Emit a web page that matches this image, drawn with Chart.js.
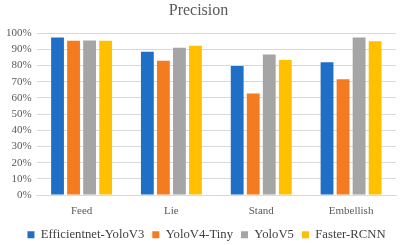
<!DOCTYPE html>
<html>
<head>
<meta charset="utf-8">
<script src="https://cdn.jsdelivr.net/npm/chart.js@4/dist/chart.umd.min.js"></script>
<style>
html,body{margin:0;padding:0;background:#fff;}
#wrap{width:400px;height:245px;}
</style>
</head>
<body>
<div id="wrap"><canvas id="c" width="400" height="245"></canvas></div>
<script>
const categories = ["Feed", "Lie", "Stand", "Embellish"];
const seriesNames = ["Efficientnet-YoloV3", "YoloV4-Tiny", "YoloV5", "Faster-RCNN"];
const efficientnetYoloV3 = [97.4, 88.5, 79.8, 82.0];
const yoloV4Tiny = [95.3, 83.0, 62.8, 71.5];
const yoloV5 = [95.5, 91.0, 86.8, 97.4];
const fasterRCNN = [95.3, 92.3, 83.5, 95.1];
const yTicks = [0,10,20,30,40,50,60,70,80,90,100];

const colors = ["#1F6FC6", "#F47B20", "#A5A5A5", "#FFC000"];
const values = [efficientnetYoloV3, yoloV4Tiny, yoloV5, fasterRCNN];

const shiftLegend = {
  id: 'shiftLegend',
  afterLayout(chart) {
    const l = chart.legend;
    if (l) { l.left += 8; l.right += 8; l.top -= 6; l.bottom -= 6; }
  }
};

new Chart(document.getElementById('c'), {
  type: 'bar',
  data: {
    labels: categories,
    datasets: seriesNames.map((n, i) => ({
      label: n, data: values[i], backgroundColor: colors[i],
      categoryPercentage: 0.714, barPercentage: 0.80
    }))
  },
  plugins: [shiftLegend],
  options: {
    responsive: false,
    animation: false,
    devicePixelRatio: 1,
    layout: { padding: { left: 1, right: 4, top: 0, bottom: -12 } },
    plugins: {
      title: { display: true, text: 'Precision', color: '#595959',
        font: { family: 'Liberation Serif', size: 16, weight: 'normal' },
        padding: { top: 1, bottom: 13 } },
      legend: { position: 'bottom',
        labels: { boxWidth: 7, boxHeight: 7, padding: 8, color: '#404040',
          font: { family: 'Liberation Serif', size: 12.7 } } },
      tooltip: { enabled: false }
    },
    scales: {
      x: {
        grid: { display: false, drawTicks: false },
        border: { color: '#D9D9D9' },
        ticks: { color: '#595959', padding: 9, font: { family: 'Liberation Serif', size: 11 } }
      },
      y: {
        min: 0, max: 100,
        afterBuildTicks: (axis) => { axis.ticks = yTicks.map(v => ({ value: v })); },
        grid: { color: '#D9D9D9', drawTicks: false },
        border: { display: false },
        ticks: { color: '#595959', padding: 5, autoSkip: false, font: { family: 'Liberation Serif', size: 11 },
          callback: (v) => v + '%' }
      }
    }
  }
});
</script>
</body>
</html>
